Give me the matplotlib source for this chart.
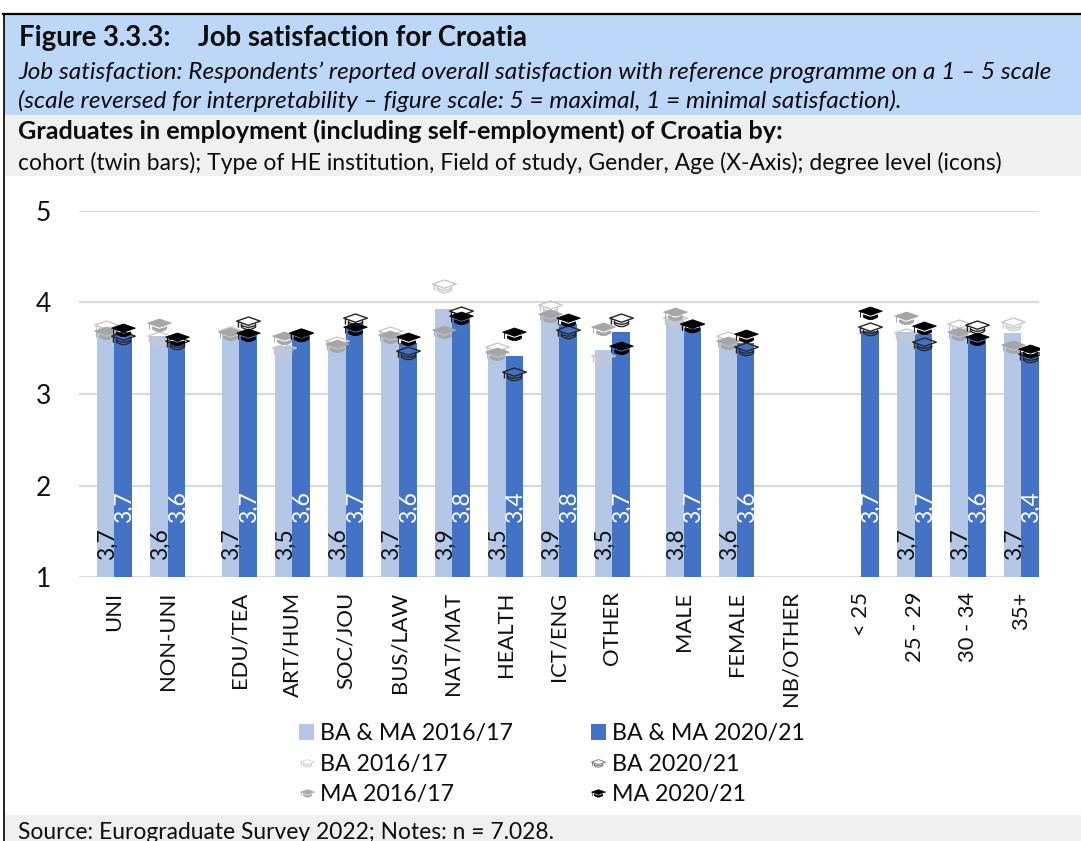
import numpy as np
import matplotlib
matplotlib.use("Agg")
import matplotlib.pyplot as plt
from matplotlib.lines import Line2D
from matplotlib.path import Path
from matplotlib.patches import Rectangle

plt.rcParams['font.family'] = ['Lato', 'DejaVu Sans']

categories = ["UNI", "NON-UNI", "EDU/TEA", "ART/HUM", "SOC/JOU", "BUS/LAW", "NAT/MAT", "HEALTH",
              "ICT/ENG", "OTHER", "MALE", "FEMALE", "NB/OTHER", "< 25", "25 - 29", "30 - 34", "35+"]
groups = [2, 8, 3, 4]
nan = float('nan')
ba_ma_2016 = [3.69, 3.63, 3.67, 3.52, 3.56, 3.66, 3.93, 3.48, 3.88, 3.48, 3.82, 3.57, nan, nan, 3.68, 3.67, 3.67]
ba_ma_2020 = [3.67, 3.58, 3.67, 3.64, 3.71, 3.56, 3.83, 3.42, 3.76, 3.68, 3.72, 3.56, nan, 3.69, 3.66, 3.60, 3.44]
ba_2016 = [3.73, 3.61, 3.67, 3.48, 3.56, 3.67, 4.18, 3.49, 3.95, 3.39, 3.81, 3.61, nan, nan, 3.65, 3.74, 3.77]
ma_2016 = [3.67, 3.75, 3.66, 3.61, 3.53, 3.62, 3.68, 3.44, 3.85, 3.71, 3.87, 3.56, nan, nan, 3.83, 3.66, 3.51]
ba_2020 = [3.61, 3.56, 3.78, 3.64, 3.81, 3.45, 3.88, 3.22, 3.68, 3.81, 3.74, 3.49, nan, 3.71, 3.55, 3.73, 3.42]
ma_2020 = [3.70, 3.60, 3.64, 3.64, 3.71, 3.60, 3.83, 3.66, 3.81, 3.50, 3.74, 3.63, nan, 3.88, 3.72, 3.60, 3.47]

W, H = 1081, 841
fig = plt.figure(figsize=(W / 100, H / 100), dpi=100, facecolor='white')
ax = fig.add_axes([79 / W, 1 - 577 / H, (1039 - 79) / W, (577 - 211) / H])


def band(y0, y1, color, x0=4, x1=W):
    fig.add_artist(Rectangle((x0 / W, 1 - y1 / H), (x1 - x0) / W, (y1 - y0) / H,
                             transform=fig.transFigure, fc=color, ec='none', zorder=-5))


def txt(x, y, s, **kw):
    fig.text(x / W, 1 - y / H, s, va='baseline', ha='left', color='#0d0d0d', **kw)


band(15, 115, '#BDD7F8')
band(115, 176, '#F0F0F0')
band(815, 841, '#F0F0F0')
fig.add_artist(plt.Line2D([3.5 / W, 3.5 / W], [1 - 14 / H, 0], color='#111111', lw=1.3))
fig.add_artist(plt.Line2D([3 / W, 1], [1 - 14 / H, 1 - 14 / H], color='black', lw=1.6))

txt(19, 46, "Figure 3.3.3:", fontsize=19.8, fontweight='bold')
txt(198, 46, "Job satisfaction for Croatia", fontsize=19.8, fontweight='bold')
txt(18, 79, "Job satisfaction: Respondents’ reported overall satisfaction with reference programme on a 1 – 5 scale",
    fontsize=17.6, style='italic')
txt(18, 108, "(scale reversed for interpretability – figure scale: 5 = maximal, 1 = minimal satisfaction).",
    fontsize=17.6, style='italic')
txt(18, 139, "Graduates in employment (including self-employment) of Croatia by:", fontsize=18.2, fontweight='bold')
txt(18, 170, "cohort (twin bars); Type of HE institution, Field of study, Gender, Age (X-Axis); degree level (icons)",
    fontsize=16.45)
txt(18, 839, "Source: Eurograduate Survey 2022; Notes: n = 7.028.", fontsize=16.35)

# category positions: a wider step between groups
pos = []
cur = 0.0
for g in groups:
    for _ in range(g):
        pos.append(cur)
        cur += 1.0
    cur += 0.338
pos = np.array(pos)
bw = 0.33
LIGHT, DARK = '#B4C7E7', '#4472C4'

bars_l = ax.bar(pos - bw / 2, np.array(ba_ma_2016) - 1, bw, bottom=1, color=LIGHT, zorder=2, label="BA & MA 2016/17")
bars_d = ax.bar(pos + bw / 2, np.array(ba_ma_2020) - 1, bw, bottom=1, color=DARK, zorder=2, label="BA & MA 2020/21")


def lab(v):
    return f"{v:.1f}".replace('.', ',')


for x, v in zip(pos - bw / 2, ba_ma_2016):
    if not np.isnan(v):
        ax.annotate(lab(v), (x, 1), xytext=(1, 12), textcoords='offset points', rotation=90,
                    ha='center', va='bottom', fontsize=16.5, color='#111111', zorder=6)
for x, v in zip(pos + bw / 2, ba_ma_2020):
    if not np.isnan(v):
        ax.annotate(lab(v), (x, 1), xytext=(1, 39), textcoords='offset points', rotation=90,
                    ha='center', va='bottom', fontsize=16.5, color='white', zorder=6)

# mortarboard icons
M, L, C3, CL = Path.MOVETO, Path.LINETO, Path.CURVE3, Path.CLOSEPOLY
ba_v = [(-1, .2), (0, .55), (1, .2), (0, -.15), (-1, .2),
        (-.6, -.02), (-.6, -.3), (0, -.75), (.6, -.3), (.6, -.02),
        (-.6, -.14), (0, -.5), (.6, -.14),
        (-.85, .15), (-.85, -.35)]
ba_c = [M, L, L, L, CL, M, L, C3, C3, L, M, C3, C3, M, L]
ma_v = [(-1, .2), (0, .55), (1, .2), (0, -.15), (-1, .2),
        (-.6, -.12), (0, -.32), (.6, -.12), (.6, -.3), (0, -.75), (-.6, -.3), (-.6, -.12),
        (-.85, .15), (-.85, -.35)]
ma_c = [M, L, L, L, CL, M, L, L, L, C3, C3, CL, M, L]
ba_icon = Path(ba_v, ba_c)
ma_icon = Path(ma_v, ma_c)
MS = 17
LMS = MS * 0.6

h_ba16, = ax.plot(pos - bw / 2, ba_2016, ls='none', marker=ba_icon, ms=MS, mfc='none', mec='#C9C9C9', mew=1.0, zorder=3)
h_ma16, = ax.plot(pos - bw / 2, ma_2016, ls='none', marker=ma_icon, ms=MS, mfc='#A6A6A6', mec='#A6A6A6', mew=0.6, zorder=3)
h_ba20, = ax.plot(pos + bw / 2, ba_2020, ls='none', marker=ba_icon, ms=MS, mfc='none', mec='#262626', mew=1.0, zorder=4)
h_ma20, = ax.plot(pos + bw / 2, ma_2020, ls='none', marker=ma_icon, ms=MS, mfc='black', mec='black', mew=0.6, zorder=5)

ax.set_xlim(-0.666, 17.345)
ax.set_ylim(1, 5)
ax.set_yticks([1, 2, 3, 4, 5])
ax.set_xticks(pos)
ax.set_xticklabels(categories, rotation=90, fontsize=15.8, color='#111111')
ax.tick_params(axis='both', length=0)
ax.tick_params(axis='x', pad=10.5)
ax.tick_params(axis='y', labelsize=19, pad=20, labelcolor='#111111')
ax.grid(axis='y', color='#D9D9D9', lw=1.5, zorder=0)
ax.set_axisbelow(True)
for s in ax.spines.values():
    s.set_visible(False)
ax.patch.set_alpha(0)

leg_ba16 = Line2D([], [], ls='none', marker=ba_icon, ms=LMS, mfc='none', mec='#D0D0D0', mew=0.6)
leg_ma16 = Line2D([], [], ls='none', marker=ma_icon, ms=LMS, mfc='#ABABAB', mec='#ABABAB', mew=0.4)
leg_ba20 = Line2D([], [], ls='none', marker=ba_icon, ms=LMS, mfc='none', mec='#707070', mew=0.6)
leg_ma20 = Line2D([], [], ls='none', marker=ma_icon, ms=LMS, mfc='black', mec='black', mew=0.4)
handles = [bars_l, leg_ba16, leg_ma16, bars_d, leg_ba20, leg_ma20]
labels = ["BA & MA 2016/17", "BA 2016/17", "MA 2016/17", "BA & MA 2020/21", "BA 2020/21", "MA 2020/21"]
leg = fig.legend(handles=handles, labels=labels, ncol=2,
                 loc='upper left', bbox_to_anchor=(299 / W, 1 - 723 / H), frameon=False,
                 fontsize=16.65, handlelength=0.65, handletextpad=0.26,
                 columnspacing=3.36, labelspacing=0.42, borderpad=0, borderaxespad=0)
for t in leg.get_texts():
    t.set_color('#0d0d0d')

fig.savefig('out.png', dpi=100)
